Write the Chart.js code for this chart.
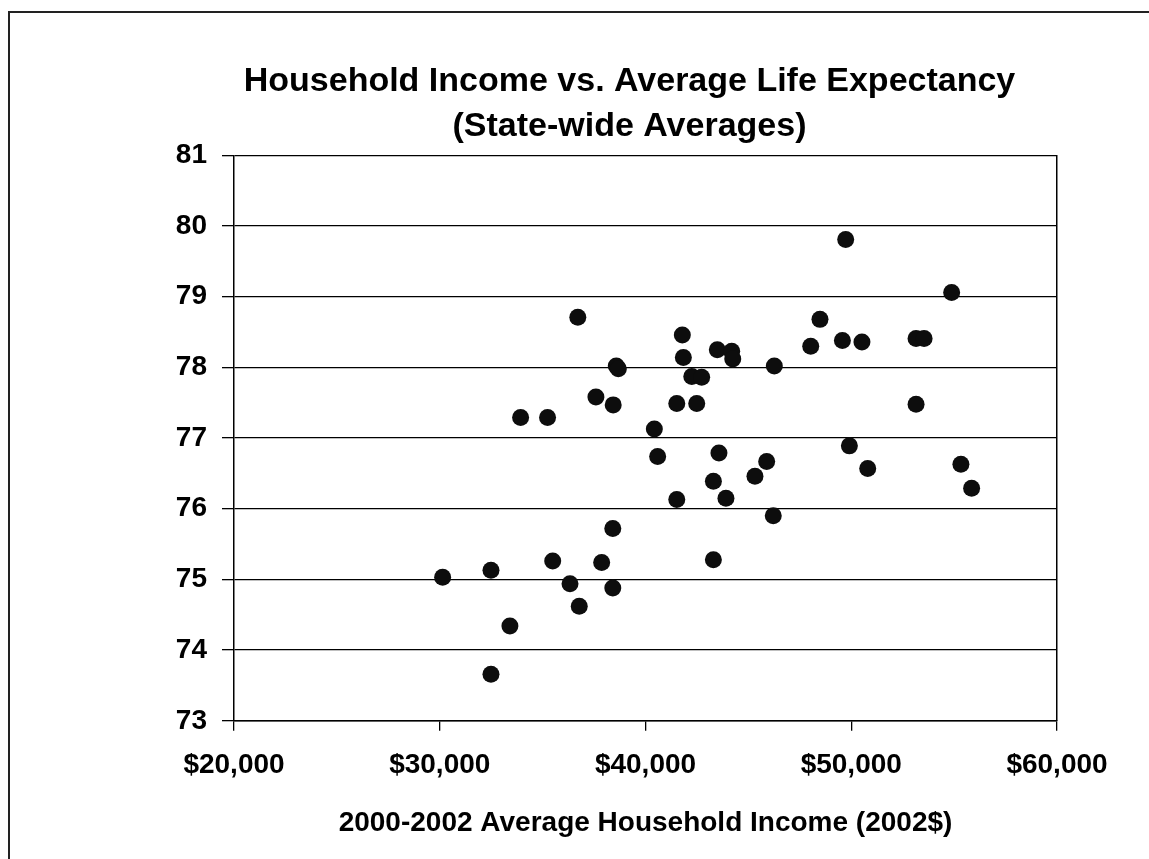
<!DOCTYPE html>
<html>
<head>
<meta charset="utf-8">
<script src="https://cdn.jsdelivr.net/npm/chart.js@4"></script>
<style>
  html, body { margin: 0; padding: 0; background: #fff; overflow: hidden; }
  #frame {
    position: absolute; left: 8px; top: 11px; width: 1200px; height: 900px;
    border-left: 2px solid #222; border-top: 2px solid #222;
  }
  #chart { position: absolute; left: 0; top: 0; }
</style>
</head>
<body>
<div id="frame"></div>
<canvas id="chart" width="1149" height="859"></canvas>
<script>
'use strict';

const chartTitle = ['Household Income vs. Average Life Expectancy', '(State-wide Averages)'];
const xTitle = '2000-2002 Average Household Income (2002$)';

// household income per state, 2002 dollars
const incomes = [30140, 32490, 32490, 33410, 33930, 35240, 35490, 36330, 36710, 36780,
    37590, 37870, 38410, 38410, 38430, 38580, 38680, 40430, 40590, 41520,
    41520, 41790, 41840, 42250, 42730, 42490, 43490, 44190, 44240, 43570,
    43300, 43300, 43910, 45320, 45890, 46260, 46210, 48030, 48480, 49570,
    49730, 49910, 50520, 50800, 53150, 53540, 53150, 54880, 55330, 55850];

// average life expectancy, same order
const lifeExp = [75.03, 75.13, 73.66, 74.34, 77.29, 77.29, 75.26, 74.94, 78.71, 74.62,
    77.58, 75.24, 75.72, 74.88, 77.47, 78.02, 77.98, 77.13, 76.74, 77.49,
    76.13, 78.46, 78.14, 77.87, 77.86, 77.49, 78.25, 78.23, 78.12, 76.79,
    76.39, 75.28, 76.15, 76.46, 76.67, 78.02, 75.90, 78.30, 78.68, 78.38,
    79.81, 76.89, 78.36, 76.57, 78.41, 78.41, 77.48, 79.06, 76.63, 76.29];

const xRange = [20000, 60000, 10000];
const yRange = [73, 81, 1];

const points = incomes.map((x, i) => ({ x: x, y: lifeExp[i] }));
const fontFamily = "'Liberation Sans', Arial, sans-serif";

new Chart(document.getElementById('chart').getContext('2d'), {
    type: 'scatter',
    data: {
        datasets: [{
            data: points,
            backgroundColor: '#0d0d0d',
            borderWidth: 0,
            pointRadius: 8.5,
            pointHoverRadius: 8.5
        }]
    },
    options: {
        responsive: false,
        animation: false,
        layout: { padding: { left: 176, right: 66, top: 0, bottom: 0 } },
        plugins: {
            legend: { display: false },
            tooltip: { enabled: false },
            title: {
                display: true,
                text: chartTitle,
                color: '#000',
                font: { family: fontFamily, size: 34, weight: 'bold', lineHeight: 1.3 },
                padding: { top: 60, bottom: 7 }
            }
        },
        scales: {
            x: {
                type: 'linear',
                min: xRange[0],
                max: xRange[1],
                ticks: {
                    stepSize: xRange[2],
                    color: '#000',
                    padding: 18,
                    maxRotation: 0,
                    font: { family: fontFamily, size: 28, weight: 'bold' },
                    callback: v => '$' + v.toLocaleString('en-US')
                },
                grid: { drawOnChartArea: false, drawTicks: true, tickLength: 10, color: '#000', lineWidth: 1.3 },
                border: { color: '#000', width: 1.5 },
                title: {
                    display: true,
                    text: xTitle,
                    color: '#000',
                    font: { family: fontFamily, size: 28, weight: 'bold' },
                    padding: { top: 6, bottom: 19 }
                }
            },
            y: {
                min: yRange[0],
                max: yRange[1],
                ticks: {
                    stepSize: yRange[2],
                    color: '#000',
                    padding: 15,
                    font: { family: fontFamily, size: 28, weight: 'bold' }
                },
                grid: { color: '#000', lineWidth: 1.3, tickLength: 12 },
                border: { color: '#000', width: 1.5 },
                afterFit: scale => { scale.width = 58; }
            },
            yRight: {
                position: 'right',
                min: yRange[0],
                max: yRange[1],
                ticks: { display: false },
                grid: { drawOnChartArea: false, drawTicks: false },
                border: { color: '#000', width: 1.5 },
                afterFit: scale => { scale.width = 26; }
            }
        }
    }
});
</script>
</body>
</html>
